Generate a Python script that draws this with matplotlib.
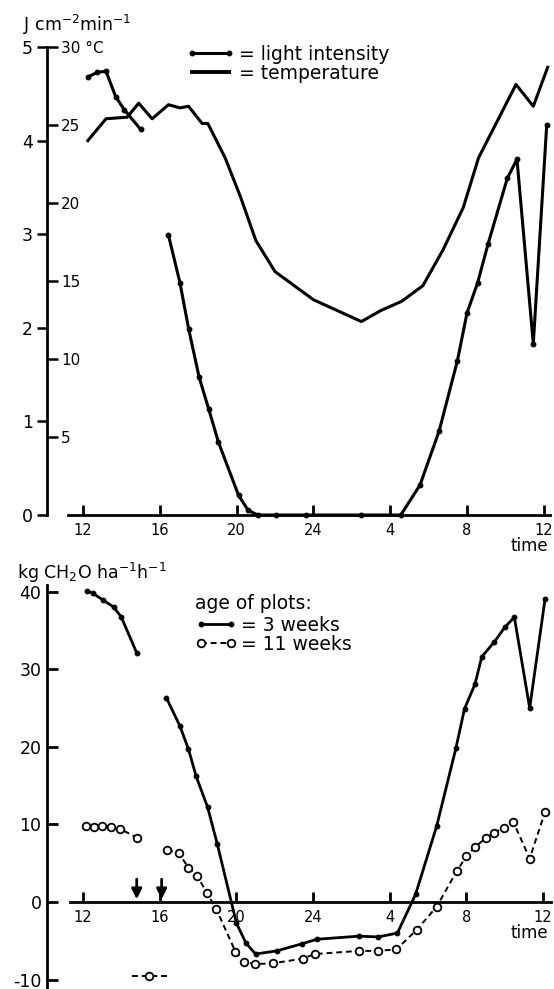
import matplotlib
matplotlib.use('Agg')
import matplotlib.pyplot as plt
from matplotlib.lines import Line2D
from matplotlib.ticker import FixedLocator, FixedFormatter

plt.rcParams['font.family'] = ['DejaVu Sans']
plt.rcParams['axes.unicode_minus'] = False

# ---------------- data ----------------
hour_ticks = [12, 16, 20, 24, 28, 32, 36]
hour_labels = ['12', '16', '20', '24', '4', '8', '12']

light_h1 = [12.25, 12.75, 13.2, 13.7, 14.15, 15.0]
light_v1 = [4.68, 4.73, 4.74, 4.47, 4.33, 4.12]
light_h2 = [16.45, 17.05, 17.5, 18.05, 18.55, 19.05, 20.1, 20.6, 21.1, 22.05,
            23.6, 26.5, 28.55, 29.55, 30.55, 31.5, 32.0, 32.55, 33.1, 34.1,
            34.6, 35.45, 36.15]
light_v2 = [2.99, 2.48, 1.99, 1.47, 1.13, 0.78, 0.21, 0.05, 0.0, 0.0,
            0.0, 0.0, 0.0, 0.32, 0.90, 1.65, 2.16, 2.48, 2.90, 3.60,
            3.80, 1.83, 4.17]

temp_h = [12.25, 13.2, 14.3, 14.9, 15.6, 16.45, 17.05, 17.5, 18.2, 18.5,
          19.4, 20.2, 21.0, 22.0, 24.0, 26.5, 27.5, 28.6, 29.7, 30.75, 31.8,
          32.6, 34.55, 35.45, 36.2]
temp_v = [24.0, 25.4, 25.5, 26.4, 25.4, 26.3, 26.1, 26.2, 25.1, 25.1,
          22.9, 20.4, 17.6, 15.6, 13.8, 12.4, 13.1, 13.7, 14.7, 17.0, 19.7,
          22.9, 27.6, 26.2, 28.7]

light_ticks = [0, 1, 2, 3, 4, 5]
temp_ticks = [5, 10, 15, 20, 25, 30]
temp_labels = ['5', '10', '15', '20', '25', '30 °C']

w3_h1 = [12.2, 12.5, 13.05, 13.6, 14.0, 14.8]
w3_v1 = [40.1, 39.8, 38.9, 38.0, 36.7, 32.1]
w3_h2 = [16.35, 17.05, 17.5, 17.9, 18.5, 19.0, 20.0, 20.5, 21.0, 22.1,
         23.4, 24.2, 26.4, 27.4, 28.4, 29.35, 30.45, 31.45, 31.9, 32.45,
         32.8, 33.45, 34.0, 34.5, 35.3, 36.1]
w3_v2 = [26.3, 22.7, 19.7, 16.2, 12.2, 7.5, -2.7, -5.3, -6.7, -6.3,
         -5.4, -4.8, -4.4, -4.5, -4.0, 1.0, 9.8, 19.8, 24.9, 28.1,
         31.6, 33.5, 35.4, 36.7, 25.0, 39.0]

w11_h1 = [12.15, 12.55, 13.0, 13.45, 13.95, 14.8]
w11_v1 = [9.8, 9.7, 9.8, 9.7, 9.4, 8.3]
w11_h2 = [16.4, 17.0, 17.5, 17.95, 18.45, 18.95, 19.95, 20.4, 20.95, 21.9,
          23.45, 24.1, 26.4, 27.4, 28.35, 29.4, 30.45, 31.5, 32.0, 32.45,
          33.0, 33.45, 33.95, 34.45, 35.3, 36.1]
w11_v2 = [6.7, 6.3, 4.4, 3.4, 1.2, -0.9, -6.4, -7.7, -8.0, -7.9,
          -7.3, -6.7, -6.3, -6.3, -6.1, -3.6, -0.6, 4.0, 5.9, 7.1,
          8.2, 8.9, 9.6, 10.3, 5.6, 11.6]

stray_h = [15.45]
stray_v = [-9.5]
arrow_h = [14.8, 16.1]
rate_ticks = [-10, 0, 10, 20, 30, 40]

# ---------------- layout ----------------
W, H = 554, 989
fig = plt.figure(figsize=(W / 100, H / 100), dpi=100)


def px_axes(left, right, top, bottom):
    return fig.add_axes([left / W, 1 - bottom / H, (right - left) / W, (bottom - top) / H])


K = 'black'
LW = 2.2

# ---------- top panel ----------
ax = px_axes(47, 550, 47, 515)
ax.set_xlim(10.125, 36.32)
ax.set_ylim(0, 5)
for s in ['top', 'right']:
    ax.spines[s].set_visible(False)
ax.spines['left'].set_linewidth(2)
ax.spines['bottom'].set_linewidth(2)
ax.spines['bottom'].set_bounds(11.2, 36.3)
ax.xaxis.set_major_locator(FixedLocator(hour_ticks))
ax.xaxis.set_major_formatter(FixedFormatter(hour_labels))
ax.tick_params(axis='x', direction='in', length=7, width=2, pad=6, labelsize=10.5)
ax.yaxis.set_major_locator(FixedLocator(light_ticks))
ax.tick_params(axis='y', direction='out', length=7, width=1.8, pad=3, labelsize=12.5)
ax.patch.set_alpha(0)

ax2 = ax.twinx()
ax2.set_ylim(0, 30)
for s in ['top', 'left', 'bottom']:
    ax2.spines[s].set_visible(False)
ax2.spines['right'].set_position(('axes', 0))
ax2.spines['right'].set_visible(False)
ax2.yaxis.set_major_locator(FixedLocator(temp_ticks))
ax2.yaxis.set_major_formatter(FixedFormatter(temp_labels))
ax2.tick_params(axis='y', direction='out', length=8, width=1.8, pad=2, labelsize=11)

ax.plot(light_h1, light_v1, color=K, lw=LW, marker='o', ms=3.2, clip_on=False)
ax.plot(light_h2, light_v2, color=K, lw=LW, marker='o', ms=3.2, clip_on=False)
ax2.plot(temp_h, temp_v, color=K, lw=LW, clip_on=False)

fig.text(23 / W, 1 - 25 / H, r'J cm$^{-2}$min$^{-1}$', fontsize=12.5, va='center', ha='left')
fig.text(548 / W, 1 - 546 / H, 'time', fontsize=12, va='center', ha='right')

leg_handles = [Line2D([], [], color=K, lw=LW, marker='o', ms=3.2),
               Line2D([], [], color=K, lw=LW + 0.6)]
ax.legend(leg_handles, ['= light intensity', '= temperature'],
          loc='upper left', bbox_to_anchor=(186 / W, 1 - 45 / H), bbox_transform=fig.transFigure,
          frameon=False, fontsize=13.5, handlelength=2.6, handletextpad=0.25,
          labelspacing=0.0, borderpad=0, borderaxespad=0, numpoints=2)

# ---------- bottom panel ----------
bx = px_axes(47, 550, 585, 989)
bx.set_xlim(10.12, 36.36)
bx.set_ylim(-11.21, 40.85)
for s in ['top', 'right']:
    bx.spines[s].set_visible(False)
bx.spines['left'].set_linewidth(2)
bx.spines['bottom'].set_position(('data', 0))
bx.spines['bottom'].set_linewidth(2)
bx.spines['bottom'].set_bounds(11.3, 36.4)
bx.xaxis.set_major_locator(FixedLocator(hour_ticks))
bx.xaxis.set_major_formatter(FixedFormatter(hour_labels))
bx.tick_params(axis='x', direction='in', length=7, width=2, pad=6, labelsize=10.5)
bx.yaxis.set_major_locator(FixedLocator(rate_ticks))
bx.tick_params(axis='y', direction='in', length=8, width=2, pad=4, labelsize=12.5)
bx.patch.set_alpha(0)

bx.plot(w3_h1, w3_v1, color=K, lw=2.0, marker='o', ms=3.2)
bx.plot(w3_h2, w3_v2, color=K, lw=2.0, marker='o', ms=3.2)
bx.plot(w11_h1, w11_v1, color=K, lw=1.4, ls=(0, (3, 2)), marker='o', ms=5.5,
        mfc='white', mec=K, mew=1.3)
bx.plot(w11_h2, w11_v2, color=K, lw=1.4, ls=(0, (3, 2)), marker='o', ms=5.5,
        mfc='white', mec=K, mew=1.3)
bx.errorbar(stray_h, stray_v, xerr=[[0.9], [0.95]], fmt='o', ms=5.5, mfc='white', mec=K,
            mew=1.3, ecolor=K, elinewidth=1.4, capsize=0, ls='none')
for eb in bx.containers[-1].lines[2]:
    eb.set_linestyle((0, (3, 2)))
for h in arrow_h:
    bx.annotate('', xy=(h, 0), xytext=(h, 3.3),
                arrowprops=dict(arrowstyle='-|>,head_length=0.6,head_width=0.3',
                                color=K, lw=2))

fig.text(17 / W, 1 - 573 / H, r'kg CH$_2$O ha$^{-1}$h$^{-1}$', fontsize=12.5, va='center', ha='left')
fig.text(548 / W, 1 - 933 / H, 'time', fontsize=12, va='center', ha='right')

leg2_handles = [Line2D([], [], color=K, lw=2.0, marker='o', ms=3.2),
                Line2D([], [], color=K, lw=1.4, ls=(0, (3, 2)), marker='o', ms=5.5,
                       mfc='white', mec=K, mew=1.3)]
bleg = bx.legend(leg2_handles, ['= 3 weeks', '= 11 weeks'], title='age of plots:',
                 title_fontsize=13.5, alignment='left',
                 loc='upper left', bbox_to_anchor=(195 / W, 1 - 594 / H), bbox_transform=fig.transFigure,
                 frameon=False, fontsize=13.5, handlelength=2.2, handletextpad=0.25,
                 labelspacing=0.0, borderpad=0, borderaxespad=0, numpoints=2)
bleg._legend_box.sep = 2

fig.savefig('out.png', dpi=100)
